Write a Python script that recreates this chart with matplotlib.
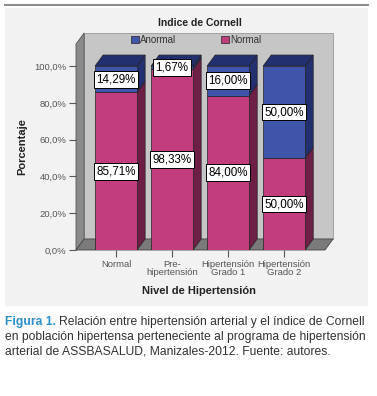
import matplotlib
matplotlib.use("Agg")
import matplotlib.pyplot as plt
from matplotlib.patches import Rectangle, Polygon
from matplotlib.lines import Line2D

categories = ["Normal", "Pre-\nhipertensión", "Hipertensión\nGrado 1", "Hipertensión\nGrado 2"]
normal = [85.71, 98.33, 84.00, 50.00]
anormal = [14.29, 1.67, 16.00, 50.00]
series_names = ["Anormal", "Normal"]
yticks = [0, 20, 40, 60, 80, 100]
title = "Indice de Cornell"
xlabel = "Nivel de Hipertensión"
ylabel = "Porcentaje"
caption_head = "Figura 1."
caption_lines = ["Relación entre hipertensión arterial y el índice de Cornell",
                 "en población hipertensa perteneciente al programa de hipertensión",
                 "arterial de ASSBASALUD, Manizales-2012. Fuente: autores."]

W, H = 377, 396
fig = plt.figure(figsize=(W / 100, H / 100), dpi=100)
fig.patch.set_facecolor("white")

def fx(px):
    return px / W

def fy(py):
    return 1 - py / H

# panel background and top rule
fig.add_artist(Rectangle((fx(5), fy(306)), fx(368) - fx(5), fy(8) - fy(306),
                         transform=fig.transFigure, fc="#f2f2f2", ec="none", zorder=0))
fig.add_artist(Line2D([fx(5), fx(368)], [fy(5), fy(5)], transform=fig.transFigure,
                      color="#8c8c8c", lw=1.5))

chart_font = ["Liberation Sans", "DejaVu Sans"]

AX_L, AX_R, AX_T, AX_B = 76, 325, 44, 250
ax = fig.add_axes([fx(AX_L), fy(AX_B), fx(AX_R) - fx(AX_L), fy(AX_T) - fy(AX_B)])
ax.set_facecolor("none")
xmin, xmax = -0.714, 3.73
ymax = 112
ax.set_xlim(xmin, xmax)
ax.set_ylim(0, ymax)
for s in ax.spines.values():
    s.set_visible(False)

dx, dy = 0.145, 6.0
w = 0.75

blue_front, blue_dark = "#3e55a9", "#23306f"
pink_front, pink_dark = "#c23d7d", "#6d1f46"
edge = "#222222"

# back wall, left wall, floor
ax.add_patch(Polygon([(xmin + dx, dy), (xmax + dx, dy), (xmax + dx, ymax + dy), (xmin + dx, ymax + dy)],
                     closed=True, fc="#c6c6c6", ec="#9a9a9a", lw=0.6, clip_on=False, zorder=0.5))
ax.add_patch(Polygon([(xmin, 0), (xmin + dx, dy), (xmin + dx, ymax + dy), (xmin, ymax)],
                     closed=True, fc="#8a8a8a", ec="#555555", lw=0.6, clip_on=False, zorder=0.6))
ax.add_patch(Polygon([(xmin, 0), (xmax, 0), (xmax + dx, dy), (xmin + dx, dy)],
                     closed=True, fc="#7a7a7a", ec="#444444", lw=0.6, clip_on=False, zorder=0.6))

x = list(range(len(categories)))
b_norm = ax.bar(x, normal, width=w, color=pink_front, edgecolor=edge, lw=0.5, zorder=2,
                label=series_names[1])
b_abn = ax.bar(x, anormal, width=w, bottom=normal, color=blue_front, edgecolor=edge, lw=0.5,
               zorder=2, label=series_names[0])

for i in x:
    segs = [(0, normal[i], pink_dark), (normal[i], normal[i] + anormal[i], blue_dark)]
    r = i + w / 2
    l = i - w / 2
    for y0, y1, c in segs:
        ax.add_patch(Polygon([(r, y0), (r + dx, y0 + dy), (r + dx, y1 + dy), (r, y1)],
                             closed=True, fc=c, ec=edge, lw=0.5, zorder=1.9, clip_on=False))
    top = normal[i] + anormal[i]
    ax.add_patch(Polygon([(l, top), (l + dx, top + dy), (r + dx, top + dy), (r, top)],
                         closed=True, fc=blue_dark, ec=edge, lw=0.5, zorder=1.9, clip_on=False))
    # value labels
    for y0, val in [(0, normal[i]), (normal[i], anormal[i])]:
        ax.text(i, y0 + val / 2, f"{val:.2f}%".replace(".", ","), ha="center", va="center",
                fontsize=8.4, family=chart_font, color="black", zorder=5,
                bbox=dict(boxstyle="square,pad=0.2", fc="white", ec="black", lw=0.7))

ax.set_yticks(yticks)
ax.set_yticklabels([f"{v:.1f}%".replace(".", ",") for v in yticks], family=chart_font,
                   fontsize=6.8, color="#555555")
ax.set_xticks(x)
ax.set_xticklabels(categories, family=chart_font, fontsize=6.8, color="#555555", linespacing=0.95)
ax.tick_params(axis="both", length=5, width=0.8, color="#555555", pad=2)

# legend
handles = [b_abn, b_norm]
leg_x = (131 - AX_L) / (AX_R - AX_L)
leg_y = 1.0 + (AX_T - 35) / (AX_B - AX_T)
leg = ax.legend(handles, series_names, ncol=2, frameon=False, loc="upper left",
                bbox_to_anchor=(leg_x, leg_y), bbox_transform=ax.transAxes,
                borderaxespad=0, borderpad=0, handlelength=0.8, handleheight=0.8,
                handletextpad=0.15, columnspacing=4.6, prop=dict(family=chart_font, size=7))
for t in leg.get_texts():
    t.set_color("#333333")

fig.text(fx(200), fy(23), title, ha="center", va="center", fontsize=7.5, weight="bold",
         family=chart_font, color="#222222")
fig.text(fx(199), fy(291), xlabel, ha="center", va="center", fontsize=8, weight="bold",
         family=chart_font, color="#222222")
fig.text(fx(22), fy(147), ylabel, ha="center", va="center", rotation=90, fontsize=8,
         weight="bold", family=chart_font, color="#222222")

# caption, sized to fit the width of the panel
cap_font = ["Liberation Sans", "DejaVu Sans"]
cap_size = 9.0
line_y = [322, 337, 352]
t_head = fig.text(fx(5), fy(line_y[0]), caption_head, ha="left", va="center", fontsize=cap_size,
                  weight="bold", color="#2a8fc8", family=cap_font)
t_lines = [fig.text(fx(5), fy(yy), s, ha="left", va="center", fontsize=cap_size,
                    color="#333333", family=cap_font) for s, yy in zip(caption_lines, line_y)]
fig.canvas.draw()
rend = fig.canvas.get_renderer()
gap_px = 3
w_head = t_head.get_window_extent(rend).width
widths = [t.get_window_extent(rend).width for t in t_lines]
widths[0] += w_head + gap_px
scale = (368 - 5) / max(widths)
new_size = cap_size * scale
t_head.set_fontsize(new_size)
for t in t_lines:
    t.set_fontsize(new_size)
fig.canvas.draw()
w_head = t_head.get_window_extent(rend).width
t_lines[0].set_x(fx(5 + w_head + gap_px * scale))

fig.savefig("out.png", dpi=100)
